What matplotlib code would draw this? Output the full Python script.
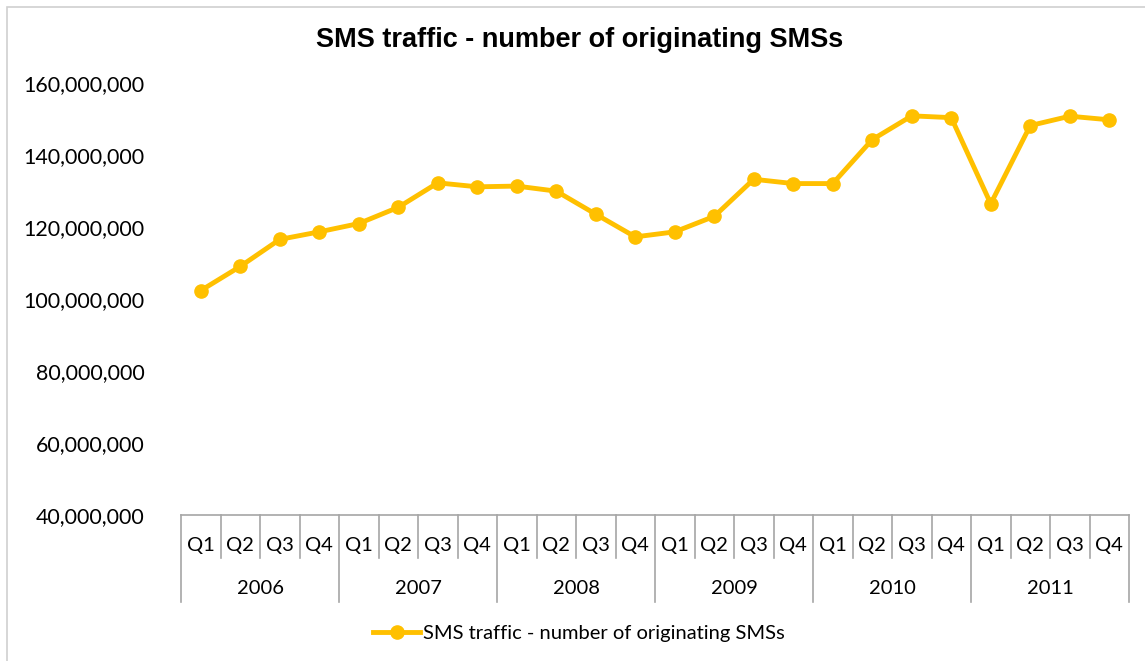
import matplotlib
matplotlib.use("Agg")
import matplotlib.pyplot as plt
from matplotlib.patches import Rectangle
from matplotlib.lines import Line2D
from matplotlib.ticker import FuncFormatter

# data
years = ["2006", "2007", "2008", "2009", "2010", "2011"]
quarters = ["Q1", "Q2", "Q3", "Q4"]
sms = [102.3, 109.0, 116.5, 118.6,
       120.9, 125.4, 132.2, 131.1,
       131.3, 129.9, 123.5, 117.2,
       118.6, 122.9, 133.2, 132.0,
       132.0, 144.2, 150.8, 150.3,
       126.4, 148.1, 150.7, 149.7]
sms = [v * 1e6 for v in sms]
title = "SMS traffic - number of originating SMSs"

W, H = 1145, 661
color = "#FFC000"
grey = "#A6A6A6"
lab_font = ["Lato", "DejaVu Sans"]

fig = plt.figure(figsize=(W / 100, H / 100), dpi=100)

# outer chart frame (cropped at right and bottom)
fig.patches.append(Rectangle((7 / W, -0.1), 1.2, 1 - 7 / H + 0.1,
                             transform=fig.transFigure, fill=False,
                             edgecolor="#D0D0D0", lw=1.2))

x0, x1 = 181, 1129
ytop, ybot = 82.7, 515
ax = fig.add_axes([x0 / W, (H - ybot) / H, (x1 - x0) / W, (ybot - ytop) / H])

n = len(sms)
xs = list(range(n))
ax.plot(xs, sms, color=color, lw=3.5, marker="o", ms=9.5, clip_on=False)
ax.set_xlim(-0.5, n - 0.5)
ax.set_ylim(40e6, 160e6)
ax.set_yticks([40e6 + 20e6 * i for i in range(7)])
ax.yaxis.set_major_formatter(FuncFormatter(lambda v, p: f"{int(v):,}"))
ax.tick_params(axis="y", length=0, pad=26, labelsize=15.4)
for t in ax.get_yticklabels():
    t.set_family(lab_font)
ax.set_xticks([])
for s in ["left", "right", "top"]:
    ax.spines[s].set_visible(False)
ax.spines["bottom"].set_color(grey)
ax.spines["bottom"].set_linewidth(1.2)

# two-level category axis drawn by hand
def fy(py):
    return (H - py) / H

trb = matplotlib.transforms.blended_transform_factory(ax.transData, fig.transFigure)
for i in range(n + 1):
    bottom = 602 if i % 4 == 0 else 558
    ax.add_line(Line2D([i - 0.5, i - 0.5], [fy(515), fy(bottom)], transform=trb,
                       color=grey, lw=1.2, clip_on=False))
for i in range(n):
    ax.text(i, fy(545), quarters[i % 4], transform=trb, ha="center", va="center",
            fontsize=14.5, family=lab_font)
for j, yr in enumerate(years):
    ax.text(j * 4 + 1.5, fy(589), yr, transform=trb, ha="center", va="center",
            fontsize=14.5, family=lab_font)

fig.text(580 / W, fy(40), title, ha="center", va="center", fontsize=19.5,
         fontweight="bold", family=["Liberation Sans", "DejaVu Sans"])

# legend
fig.lines.append(Line2D([373 / W, 420 / W], [fy(632), fy(632)], transform=fig.transFigure,
                        color=color, lw=3.5))
fig.lines.append(Line2D([396.5 / W], [fy(632)], transform=fig.transFigure,
                        color=color, marker="o", ms=9.5, lw=0))
fig.text(423 / W, fy(633), title, ha="left", va="center", fontsize=14.5,
         family=lab_font)

fig.savefig("out.png", dpi=100)
